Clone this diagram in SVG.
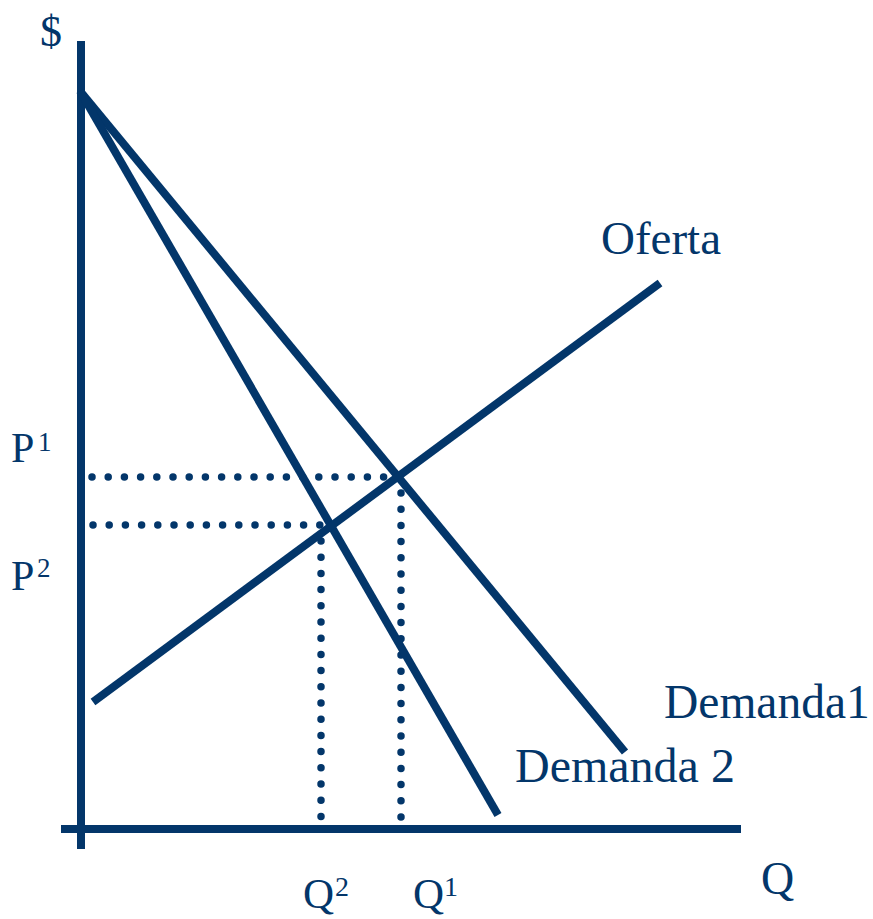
<svg xmlns="http://www.w3.org/2000/svg" width="873" height="919" viewBox="0 0 873 919">
<style>
.ln{stroke:#03366A;stroke-width:8;fill:none;stroke-linecap:butt}
.dot{stroke:#03366A;stroke-width:7.5;fill:none;stroke-linecap:round;stroke-dasharray:0 16.2}
.t{font-family:"Liberation Serif","Times New Roman",serif;fill:#03366A}
</style>
<rect width="873" height="919" fill="#fff"/>
<g id="axes">
<line class="ln" x1="81" y1="41" x2="81" y2="849"/>
<line class="ln" x1="61" y1="829" x2="741" y2="829"/>
</g>
<g id="guides">
<line class="dot" x1="92" y1="477" x2="386" y2="477"/>
<line class="dot" x1="93" y1="525" x2="320" y2="525"/>
<line class="dot" x1="321" y1="541" x2="321" y2="818"/>
<line class="dot" x1="401" y1="493" x2="401" y2="818"/>
</g>
<g id="curves">
<line id="demanda1" class="ln" x1="80" y1="91" x2="625" y2="752"/>
<line id="demanda2" class="ln" x1="80" y1="91" x2="498" y2="815"/>
<line id="oferta" class="ln" x1="93" y1="702" x2="660" y2="283"/>
</g>
<g id="labels">
<text class="t" x="40" y="46" font-size="44">$</text>
<text class="t" x="601" y="254" font-size="47">Oferta</text>
<text class="t" x="664" y="718" font-size="47.5">Demanda1</text>
<text class="t" x="515" y="782" font-size="48">Demanda 2</text>
<text class="t" x="11" y="462" font-size="42">P</text>
<text class="t" x="38" y="451" font-size="27">1</text>
<text class="t" x="11" y="590" font-size="42">P</text>
<text class="t" x="37" y="577" font-size="27">2</text>
<text class="t" x="303" y="908" font-size="43">Q</text>
<text class="t" x="335" y="896" font-size="28">2</text>
<text class="t" x="413" y="908" font-size="43">Q</text>
<text class="t" x="444" y="896" font-size="28">1</text>
<text class="t" x="761" y="894" font-size="46">Q</text>
</g>
</svg>
